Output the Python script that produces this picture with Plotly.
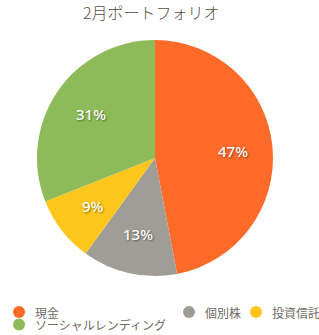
import math
import plotly.graph_objects as go

title = "2月ポートフォリオ"
labels = ["現金", "個別株", "投資信託", "ソーシャルレンディング"]
values = [47, 13, 9, 31]
colors = ["#FE6A28", "#A09D96", "#FCC61C", "#8EBB5A"]

W, H = 319, 335
ML, MR, MT, MB = 37, 46, 40, 59
PW, PH = W - ML - MR, H - MT - MB

def px_x(x):
    return (x - ML) / PW

def px_y(y):
    return 1 - (y - MT) / PH

FONT = "Noto Sans CJK JP, Noto Sans, sans-serif"

fig = go.Figure(go.Pie(
    labels=labels,
    values=values,
    marker=dict(colors=colors, line=dict(width=0)),
    sort=False,
    direction="clockwise",
    rotation=0,
    textinfo="none",
    showlegend=False,
    hoverinfo="label+percent",
))

annotations = []

# percentage labels placed along each slice's bisector at ~2/3 of the radius
total = sum(values)
cx0, cy0 = 0.5, 0.5  # pie center in paper coords (domain is square)
r_frac = 0.66 * 0.5
cum = 0
for v in values:
    mid = (cum + v / 2) / total * 2 * math.pi
    cum += v
    annotations.append(dict(
        text=f"{round(v / total * 100)}%", xref="paper", yref="paper",
        x=cx0 + r_frac * math.sin(mid), y=cy0 + r_frac * math.cos(mid),
        xanchor="center", yanchor="middle", showarrow=False,
        font=dict(family="Noto Sans, sans-serif", size=15, color="white",
                  weight=500, shadow="1px 1px 2px rgba(0,0,0,0.45)")))

# custom legend (positions in pixels)
legend_pos = [(19, 312), (189, 312), (256, 312), (19, 324.5)]
shapes = []
for lab, col, (cx, cy) in zip(labels, colors, legend_pos):
    shapes.append(dict(type="circle", xref="paper", yref="paper",
                       xsizemode="pixel", ysizemode="pixel",
                       xanchor=px_x(cx), yanchor=px_y(cy),
                       x0=-6, x1=6, y0=-6, y1=6,
                       fillcolor=col, line=dict(width=0)))
    annotations.append(dict(text=lab, xref="paper", yref="paper",
                            x=px_x(cx + 14), y=px_y(cy), xanchor="left", yanchor="middle",
                            showarrow=False,
                            font=dict(family=FONT, size=12, color="#706a64")))

annotations.append(dict(text=title, xref="paper", yref="paper",
                        x=px_x(151.5), y=px_y(12.5), xanchor="center", yanchor="middle",
                        showarrow=False,
                        font=dict(family=FONT, size=16, color="#5b4c40", weight=300)))

fig.update_layout(
    width=W, height=H,
    margin=dict(l=ML, r=MR, t=MT, b=MB),
    paper_bgcolor="white",
    plot_bgcolor="white",
    shapes=shapes,
    annotations=annotations,
)

fig.write_html("out.html")
